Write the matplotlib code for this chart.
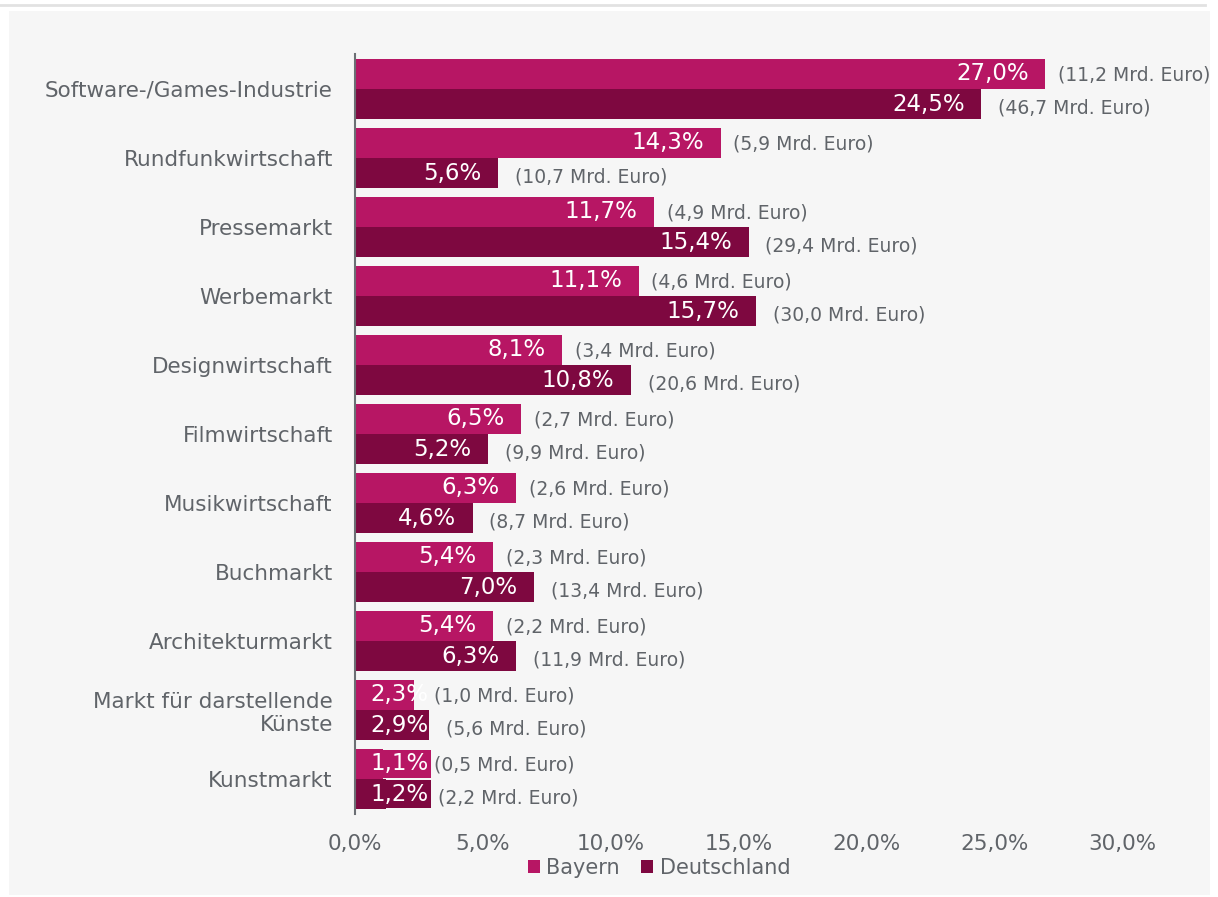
import matplotlib.pyplot as plt
from matplotlib.patches import Rectangle

categories = ['Software-/Games-Industrie', 'Rundfunkwirtschaft', 'Pressemarkt',
              'Werbemarkt', 'Designwirtschaft', 'Filmwirtschaft', 'Musikwirtschaft',
              'Buchmarkt', 'Architekturmarkt', 'Markt für darstellende\nKünste', 'Kunstmarkt']
bayern = [27.0, 14.3, 11.7, 11.1, 8.1, 6.5, 6.3, 5.4, 5.4, 2.3, 1.1]
deutschland = [24.5, 5.6, 15.4, 15.7, 10.8, 5.2, 4.6, 7.0, 6.3, 2.9, 1.2]
bayern_mrd = ['11,2', '5,9', '4,9', '4,6', '3,4', '2,7', '2,6', '2,3', '2,2', '1,0', '0,5']
deutschland_mrd = ['46,7', '10,7', '29,4', '30,0', '20,6', '9,9', '8,7', '13,4', '11,9', '5,6', '2,2']
xticks = [0, 5, 10, 15, 20, 25, 30]

c_by = '#b71664'
c_de = '#7e0840'
txt = '#606469'

plt.rcParams['font.family'] = ['DejaVu Sans']

fig = plt.figure(figsize=(12.18, 8.97), dpi=100)
fig.patch.set_facecolor('white')
W, H = 1218, 897
fig.patches.append(Rectangle((9 / W, 1 - 895 / H), 1201 / W, 884 / H,
                             transform=fig.transFigure, facecolor='#f6f6f6',
                             edgecolor='none', zorder=-10))
fig.lines.append(plt.Line2D([0, 1205 / W], [1 - 5 / H, 1 - 5 / H],
                            transform=fig.transFigure, color='#e2e2e2', lw=2))

ax = fig.add_axes([355 / W, 1 - 813.5 / H, (1122 - 355) / W, (813.5 - 54.5) / H])
ax.set_facecolor('none')

h = 0.435
ys = list(range(len(categories)))
ax.barh([y - h / 2 for y in ys], bayern, height=h, color=c_by, label='Bayern')
ax.barh([y + h / 2 for y in ys], deutschland, height=h, color=c_de, label='Deutschland')


def value_label(v, y, col):
    s = f'{v:.1f}%'.replace('.', ',')
    if v >= 3:
        ax.annotate(s, (v, y), xytext=(-12, 0), textcoords='offset points',
                    ha='right', va='center', color='white', fontsize=16.5)
    else:
        box = None
        if v < 2:
            box = dict(boxstyle='square,pad=0.1', facecolor=col, edgecolor='none')
        ax.annotate(s, (0, y), xytext=(11, 0), textcoords='offset points',
                    ha='left', va='center', color='white', fontsize=16.5, bbox=box)


for y, v, m in zip(ys, bayern, bayern_mrd):
    value_label(v, y - h / 2, c_by)
    ax.annotate(f'({m} Mrd. Euro)', (max(v, 2.6), y - h / 2), xytext=(9, -1),
                textcoords='offset points', ha='left', va='center',
                color=txt, fontsize=13.5, annotation_clip=False)
for y, v, m in zip(ys, deutschland, deutschland_mrd):
    value_label(v, y + h / 2, c_de)
    ax.annotate(f'({m} Mrd. Euro)', (max(v, 2.6), y + h / 2), xytext=(12, -3),
                textcoords='offset points', ha='left', va='center',
                color=txt, fontsize=13.5, annotation_clip=False)

ax.set_ylim(len(categories) - 0.5, -0.5)
ax.set_xlim(0, 30)
ax.set_yticks(ys)
ax.set_yticklabels(categories, fontsize=15.5, color=txt, linespacing=1.2)
ax.set_xticks(xticks)
ax.set_xticklabels([f'{t:.1f}%'.replace('.', ',') for t in xticks], fontsize=15.5, color=txt)
ax.tick_params(axis='both', length=0)
ax.tick_params(axis='y', pad=16)
ax.tick_params(axis='x', pad=15)
for s in ['top', 'right', 'bottom']:
    ax.spines[s].set_visible(False)
ax.spines['left'].set_color('#6b6f74')
ax.spines['left'].set_linewidth(1.5)

fig.legend(loc='center', bbox_to_anchor=(659 / W, 1 - 868 / H), ncol=2, frameon=False,
           fontsize=15, labelcolor=txt, handlelength=0.6, handleheight=0.6,
           handletextpad=0.3, columnspacing=1.0)

fig.savefig('out.png', dpi=100)
